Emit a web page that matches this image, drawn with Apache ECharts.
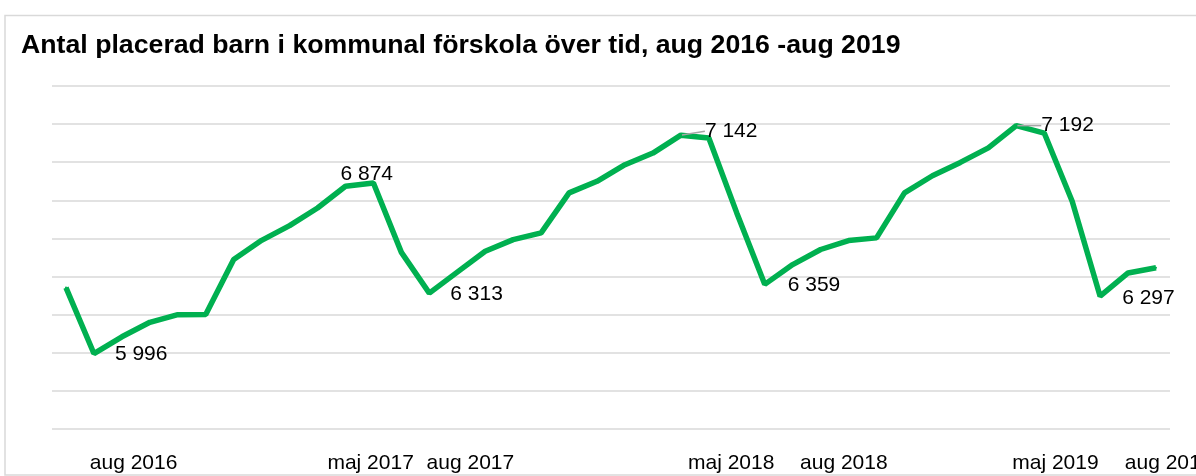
<!DOCTYPE html>
<html>
<head>
<meta charset="utf-8">
<style>
  html, body { margin: 0; padding: 0; background: #fff; }
  #chart { width: 1196px; height: 476px; }
</style>
<script src="https://cdn.jsdelivr.net/npm/echarts@6/dist/echarts.min.js"></script>
</head>
<body>
<div id="chart"></div>
<script>
// months jul 2016 - okt 2019
const months = [
  'jul 2016', 'aug 2016', 'sep 2016', 'okt 2016', 'nov 2016', 'dec 2016',
  'jan 2017', 'feb 2017', 'mar 2017', 'apr 2017', 'maj 2017', 'jun 2017',
  'jul 2017', 'aug 2017', 'sep 2017', 'okt 2017', 'nov 2017', 'dec 2017',
  'jan 2018', 'feb 2018', 'mar 2018', 'apr 2018', 'maj 2018', 'jun 2018',
  'jul 2018', 'aug 2018', 'sep 2018', 'okt 2018', 'nov 2018', 'dec 2018',
  'jan 2019', 'feb 2019', 'mar 2019', 'apr 2019', 'maj 2019', 'jun 2019',
  'jul 2019', 'aug 2019', 'sep 2019', 'okt 2019'
]

// antal placerade barn per månad
const children = [
  6342, 5996, 6084, 6160, 6200, 6201,
  6489, 6590, 6667, 6760, 6874, 6891,
  6527, 6313, 6423, 6533, 6594, 6629,
  6839, 6900, 6987, 7048, 7142, 7127,
  6734, 6359, 6463, 6542, 6589, 6603,
  6839, 6929, 6999, 7075, 7192, 7153,
  6795, 6297, 6419, 6446
]

// months that get a value label
const labelledMonths = ['aug 2016', 'maj 2017', 'aug 2017', 'maj 2018', 'aug 2018', 'maj 2019', 'aug 2019']

// x axis tick labels and where they sit (in month steps, as in the picture)
const tickLabels = ['aug 2016', 'maj 2017', 'aug 2017', 'maj 2018', 'aug 2018', 'maj 2019', 'aug 2019']
const tickAt = [2.42, 10.9, 14.47, 23.8, 27.83, 35.4, 39.45]

const FONT = '"Liberation Sans", Arial, sans-serif'

// label nudges (dx, dy) relative to the point
const labelShift = {
  'aug 2016': [20, 1],
  'maj 2017': [-6, -12],
  'aug 2017': [20, 1],
  'maj 2018': [23, -4],
  'aug 2018': [22, 1],
  'maj 2019': [24, 0],
  'aug 2019': [21, 2]
}
const withLeader = ['maj 2018', 'maj 2019']

const seriesData = children.map((v, i) => {
  const m = months[i]
  const item = { value: [i, v] }
  if (labelledMonths.includes(m)) {
    item.label = {
      show: true,
      position: 'right',
      distance: 0,
      formatter: () => v.toLocaleString('sv-SE').replace(/\s/g, ' ')
    }
    if (withLeader.includes(m)) {
      item.labelLine = { show: true, lineStyle: { color: '#a6a6a6', width: 1.5 } }
    }
  }
  return item
})

const chart = echarts.init(document.getElementById('chart'))

const option = {
  animation: false,
  backgroundColor: '#fff',
  title: {
    text: 'Antal placerad barn i kommunal förskola över tid, aug 2016 -aug 2019',
    left: 16,
    top: 27,
    textStyle: {
      fontFamily: FONT,
      fontSize: 26.7,
      fontWeight: 'bold',
      color: '#000'
    }
  },
  graphic: [
    {
      type: 'rect',
      silent: true,
      shape: { x: 5, y: 15.5, width: 1400, height: 459.5 },
      style: { fill: 'none', stroke: '#d9d9d9', lineWidth: 1.5 }
    }
  ],
  grid: {
    left: 52,
    right: 26,
    top: 86,
    bottom: 47,
    outerBoundsMode: 'none'
  },
  xAxis: {
    type: 'value',
    min: -0.5,
    max: 39.5,
    axisLine: { show: false },
    axisTick: { show: false },
    splitLine: { show: false },
    axisLabel: {
      customValues: tickAt,
      formatter: (val) => {
        const k = tickAt.findIndex(t => Math.abs(t - val) < 1e-6)
        return k >= 0 ? tickLabels[k] : ''
      },
      margin: 24,
      fontFamily: FONT,
      fontSize: 21,
      color: '#000'
    }
  },
  yAxis: {
    type: 'value',
    min: 5600,
    max: 7400,
    interval: 200,
    axisLine: { show: false },
    axisTick: { show: false },
    axisLabel: { show: false },
    splitLine: { lineStyle: { color: '#d9d9d9', width: 1.5 } }
  },
  series: [
    {
      type: 'line',
      data: seriesData,
      showSymbol: true,
      showAllSymbol: true,
      symbol: 'circle',
      symbolSize: 2,
      itemStyle: { color: '#00b050' },
      lineStyle: { color: '#00b050', width: 5.5 },
      label: {
        fontFamily: FONT,
        fontSize: 21,
        color: '#000'
      },
      labelLayout: (params) => {
        const s = labelShift[months[params.dataIndex]]
        return s ? { dx: s[0], dy: s[1] } : {}
      },
      emphasis: { disabled: true }
    }
  ]
}

chart.setOption(option)
</script>
</body>
</html>
